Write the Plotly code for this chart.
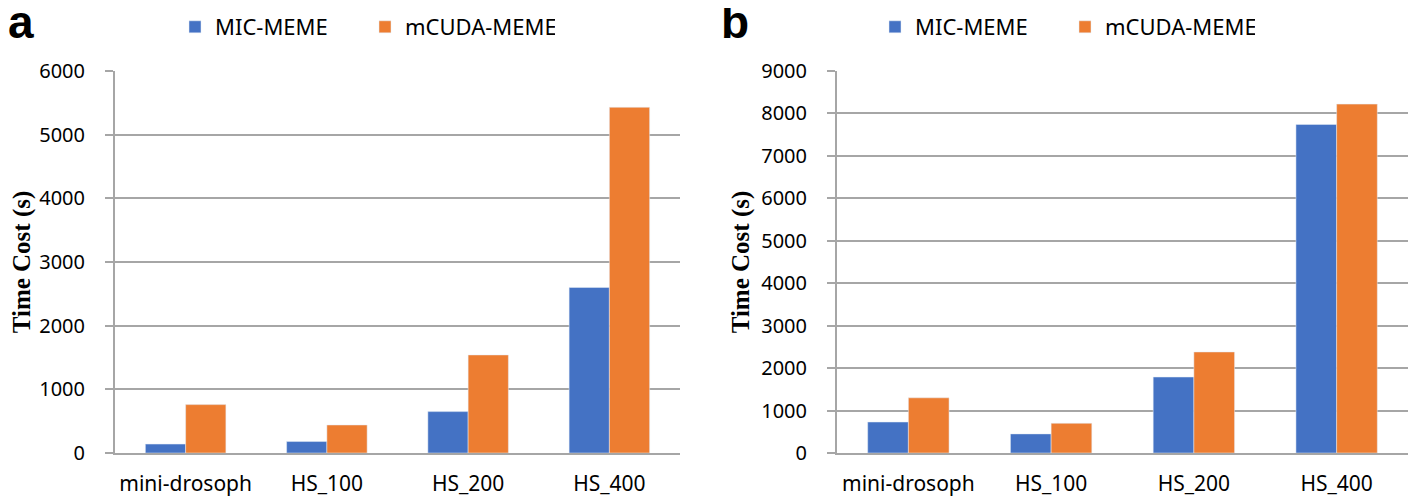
import plotly.graph_objects as go

categories = ["mini-drosoph", "HS_100", "HS_200", "HS_400"]
mic_a = [140, 180, 650, 2600]
mcuda_a = [760, 440, 1540, 5430]
mic_b = [730, 450, 1790, 7740]
mcuda_b = [1300, 700, 2380, 8220]
series_names = ["MIC-MEME", "mCUDA-MEME"]
colors = ["#4472C4", "#ED7D31"]
yticks_a = list(range(0, 6001, 1000))
yticks_b = list(range(0, 9001, 1000))

# page has an 8px body margin; work in page pixels and convert
OFF = 8
W, H = 1416 - OFF, 499 - OFF
def px(x):
    return (x - OFF) / W
def py(y):
    return 1 - (y - OFF) / H

fig = go.Figure()
fig.add_trace(go.Bar(x=categories, y=mic_a, name=series_names[0], marker_color=colors[0],
                     xaxis="x", yaxis="y", legend="legend"))
fig.add_trace(go.Bar(x=categories, y=mcuda_a, name=series_names[1], marker_color=colors[1],
                     xaxis="x", yaxis="y", legend="legend"))
fig.add_trace(go.Bar(x=categories, y=mic_b, name=series_names[0], marker_color=colors[0],
                     xaxis="x2", yaxis="y2", legend="legend2"))
fig.add_trace(go.Bar(x=categories, y=mcuda_b, name=series_names[1], marker_color=colors[1],
                     xaxis="x2", yaxis="y2", legend="legend2"))

sans = "Noto Sans, Liberation Sans, sans-serif"
ytickfont = dict(family=sans, size=20, color="#000000")
xtickfont = dict(family=sans, size=21, color="#000000")
titlefont = dict(family="Liberation Serif, Times New Roman, serif", size=25, color="#000000")
grid = "#A6A6A6"

def xaxis(dom):
    return dict(domain=dom, showgrid=False, showline=True, linecolor=grid, linewidth=2,
                ticks="outside", ticklen=11, tickcolor="rgba(0,0,0,0)", tickfont=xtickfont,
                fixedrange=True)

def yaxis(dom, anchor, rng, vals):
    return dict(domain=dom, anchor=anchor, range=rng, tickvals=vals, showgrid=True,
                gridcolor=grid, gridwidth=2, showline=True, linecolor=grid, linewidth=2,
                ticks="outside", ticklen=8, tickwidth=2, tickcolor=grid, tickfont=ytickfont,
                ticklabelstandoff=16, zeroline=False,
                title=dict(text="<b>Time Cost (s)</b>", font=titlefont, standoff=4))

legfont = dict(family=sans, size=22, color="#000")
ydom = [py(453), py(71)]
panel_font = dict(family="Liberation Sans, Arial, sans-serif", size=46, color="#000")
fig.update_layout(
    width=W, height=H, margin=dict(l=0, r=0, t=0, b=0, autoexpand=False),
    paper_bgcolor="white", plot_bgcolor="white",
    barmode="group", bargap=0.43, bargroupgap=0,
    xaxis=dict(xaxis([px(115), px(680)]), anchor="y"),
    yaxis=yaxis(ydom, "x", [0, 6000], yticks_a),
    xaxis2=dict(xaxis([px(837), px(1408)]), anchor="y2"),
    yaxis2=yaxis(ydom, "x2", [0, 9000], yticks_b),
    legend=dict(orientation="h", x=px(175), y=py(27), yanchor="middle", xanchor="left",
                font=legfont, itemwidth=30, entrywidth=145, traceorder="normal",
                bgcolor="rgba(0,0,0,0)"),
    legend2=dict(orientation="h", x=px(875), y=py(27), yanchor="middle", xanchor="left",
                 font=legfont, itemwidth=30, entrywidth=145, traceorder="normal",
                 bgcolor="rgba(0,0,0,0)"),
    annotations=[
        dict(text="<b>a</b>", x=px(8), y=py(22), xref="paper", yref="paper", xshift=-2,
             xanchor="left", yanchor="middle", showarrow=False, font=panel_font),
        dict(text="<b>b</b>", x=px(719), y=py(22), xref="paper", yref="paper",
             xanchor="left", yanchor="middle", showarrow=False, font=panel_font),
    ],
)

fig.write_html("out.html")
